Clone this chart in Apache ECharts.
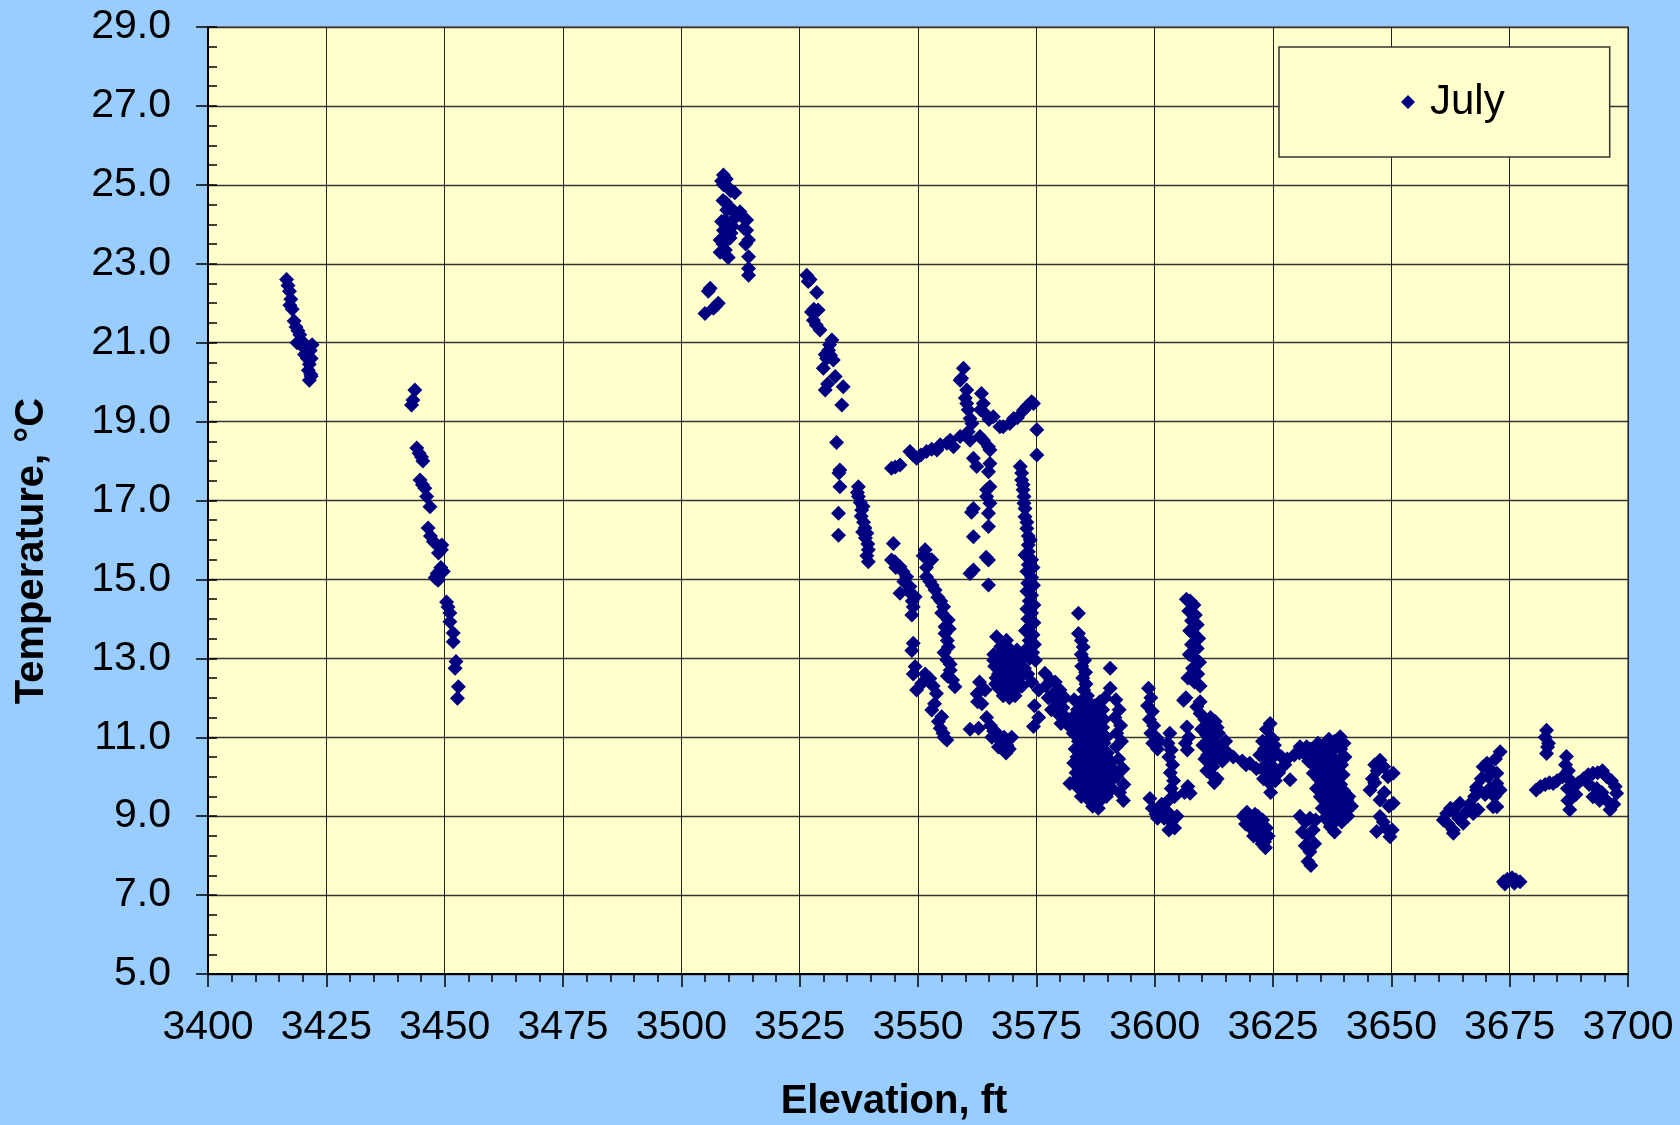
<!DOCTYPE html>
<html>
<head>
<meta charset="utf-8">
<script src="https://cdn.jsdelivr.net/npm/echarts@6/dist/echarts.min.js"></script>
<style>
html,body{margin:0;padding:0;background:#99CCFF;}
#chart{width:1680px;height:1125px;}
</style>
</head>
<body>
<div id="chart"></div>
<script>
// Tick settings
var xTicks = {min: 3400, max: 3700, step: 25};
var yTicks = {min: 5, max: 29, step: 2};
var seriesName = 'July';

// Data: [elevation ft, temperature °C], grouped by cluster
var clusterA = [[3416.6,22.6],[3416.9,22.45],[3417.2,22.3],[3417.5,22.1],[3417.3,21.95],[3417.8,21.85],[3418.2,21.55],[3418.6,21.4],[3419.0,21.3],[3419.4,21.2],[3418.8,21.0],[3419.6,20.95],[3420.2,21.0],[3420.8,20.9],[3422.0,20.95],[3421.6,20.8],[3420.4,20.7],[3421.0,20.6],[3421.8,20.6],[3421.4,20.45],[3421.2,20.3],[3421.7,20.2],[3421.4,20.05],[3421.8,20.15]];

var clusterB = [[3443.7,19.8],[3443.3,19.55],[3443.0,19.42],[3444.1,18.33],[3444.6,18.2],[3445.1,18.1],[3445.4,18.0],[3444.8,17.52],[3445.3,17.4],[3445.8,17.31],[3446.2,17.1],[3446.9,16.84],[3446.5,16.3],[3447.0,16.1],[3447.6,15.96],[3448.2,15.9],[3449.4,15.87],[3448.7,15.67],[3449.3,15.75],[3448.0,15.04],[3448.4,15.15],[3449.2,15.3],[3449.7,15.2],[3448.6,14.98],[3450.4,14.43],[3450.7,14.3],[3451.1,14.15],[3451.1,13.93],[3451.8,13.64],[3451.8,13.42],[3452.4,12.92],[3452.2,12.75],[3452.9,12.28],[3452.7,11.99]];

var clusterC = [[3508.9,25.25],[3508.5,25.1],[3509.5,25.15],[3508.9,25.0],[3509.8,24.95],[3510.4,24.85],[3511.3,24.8],[3508.8,24.6],[3509.4,24.55],[3509.6,24.36],[3510.3,24.4],[3511.0,24.35],[3512.4,24.32],[3511.8,24.25],[3511.3,24.16],[3512.8,24.2],[3513.8,24.11],[3508.5,24.07],[3509.2,24.1],[3510.0,24.0],[3510.8,23.95],[3508.9,23.85],[3509.7,23.8],[3510.5,23.78],[3513.8,23.85],[3513.2,23.9],[3508.2,23.6],[3508.8,23.5],[3510.3,23.65],[3514.2,23.6],[3513.6,23.5],[3508.2,23.29],[3509.9,23.16],[3509.3,23.35],[3514.2,23.18],[3514.2,22.88],[3514.2,22.71],[3506.1,22.38],[3505.7,22.3],[3507.8,22.0],[3507.2,21.92],[3506.8,21.87],[3505.0,21.74]];

var clusterD = [[3526.5,22.71],[3526.8,22.55],[3527.2,22.6],[3528.6,22.27],[3527.5,21.78],[3528.0,21.85],[3528.9,21.83],[3527.9,21.57],[3528.5,21.45],[3529.3,21.32],[3531.8,21.07],[3531.3,20.95],[3531.1,20.81],[3530.4,20.7],[3530.7,20.6],[3532.1,20.56],[3531.5,20.68],[3530.0,20.35],[3532.5,20.14],[3534.2,19.88],[3530.4,19.8],[3530.9,19.95],[3533.9,19.42],[3532.8,18.47],[3533.5,17.77],[3533.3,17.7],[3533.5,17.35],[3533.2,16.68],[3533.2,16.12],[3537.4,17.35],[3537.2,17.2],[3537.4,17.1],[3537.8,16.95],[3538.1,16.76],[3538.0,16.6],[3538.5,16.45],[3538.8,16.3],[3539.2,16.17],[3538.9,16.05],[3539.4,15.9],[3539.5,15.75],[3539.2,15.6],[3539.5,15.45],[3538.4,16.85],[3538.3,16.2]];

var clusterE1 = [[3544.4,17.82],[3545.2,17.85],[3546.2,17.9],[3548.3,18.24],[3549.0,18.15],[3549.7,18.07],[3550.6,18.15],[3551.8,18.24],[3552.9,18.3],[3554.0,18.28],[3554.7,18.41],[3556.1,18.45],[3556.8,18.53],[3557.5,18.36],[3558.9,18.62],[3559.6,20.35],[3559.2,20.1],[3558.9,20.05],[3560.3,19.8],[3560.0,19.6],[3560.3,19.46],[3560.6,19.3],[3561.0,19.08],[3561.4,18.95],[3560.6,18.74],[3561.0,18.53],[3563.4,19.71],[3563.8,19.46],[3563.2,19.3],[3564.2,19.2],[3565.9,19.12],[3565.0,19.05],[3567.3,18.87],[3568.0,18.87],[3569.4,18.95],[3570.2,19.08],[3571.0,19.1],[3572.3,19.29],[3573.0,19.38],[3574.0,19.5],[3574.4,19.46],[3575.1,18.79],[3575.1,18.15],[3563.1,18.62],[3563.8,18.53],[3564.9,18.36],[3561.7,18.07],[3562.4,17.86],[3565.2,18.28],[3565.2,17.94],[3564.9,17.73],[3564.5,17.27],[3565.2,17.35],[3565.2,16.93],[3564.5,17.1],[3561.7,16.8],[3561.3,16.7],[3564.9,16.68],[3564.9,16.34],[3561.7,16.08],[3564.9,15.49],[3564.4,15.56],[3561.7,15.24],[3561.0,15.15],[3564.9,14.86]];

var clusterE2 = [[3571.6,17.86],[3571.9,17.7],[3571.9,17.52],[3572.2,17.4],[3572.2,17.27],[3572.4,17.1],[3572.4,16.93],[3572.6,16.8],[3572.6,16.59],[3573.0,16.45],[3573.0,16.29],[3573.3,16.1],[3573.3,15.87],[3573.7,16.0],[3572.6,15.62],[3573.3,15.7],[3574.0,15.5],[3573.3,15.37],[3574.3,15.3],[3573.0,15.2],[3574.0,15.05],[3573.2,14.9],[3574.4,14.85],[3573.0,14.7],[3574.0,14.6],[3573.5,14.45],[3574.5,14.35],[3573.0,14.25],[3574.0,14.15],[3573.2,14.0],[3574.5,13.9],[3573.6,13.8],[3572.7,13.7],[3574.3,13.6],[3573.5,13.45],[3574.6,13.35],[3573.0,13.25],[3574.2,13.15],[3573.6,13.0],[3574.8,12.95]];

var clusterE3 = [[3566.6,13.55],[3568.7,13.46],[3567.5,13.3],[3570.9,13.21],[3566.0,13.1],[3567.2,13.0],[3568.5,13.1],[3569.8,13.0],[3571.0,12.95],[3566.2,12.8],[3567.5,12.75],[3568.8,12.8],[3570.0,12.7],[3571.3,12.7],[3572.5,12.75],[3566.5,12.5],[3567.8,12.45],[3569.0,12.5],[3570.3,12.45],[3571.5,12.5],[3567.0,12.25],[3568.3,12.2],[3569.5,12.25],[3570.8,12.2],[3568.0,12.05],[3569.3,12.0],[3570.5,12.05],[3572.0,12.3],[3573.2,12.6],[3574.0,12.4],[3566.0,12.95],[3567.0,12.6],[3568.2,12.6],[3569.4,12.65],[3570.6,12.6],[3571.8,12.6],[3567.3,12.9],[3568.5,12.9],[3569.7,12.85],[3570.5,12.35],[3569.0,12.35],[3567.5,12.35],[3568.8,12.1],[3567.8,13.15],[3569.3,13.25],[3566.4,12.35],[3572.0,13.0],[3563.0,12.4],[3562.5,12.1],[3563.5,11.85],[3564.2,12.2],[3562.6,11.9],[3564.5,11.5],[3565.3,11.3],[3566.0,11.15],[3565.6,11.0],[3566.7,11.1],[3567.5,10.9],[3568.2,11.0],[3568.8,10.8],[3569.3,10.7],[3567.0,10.75],[3569.8,11.0],[3568.6,10.6],[3562.8,11.23],[3561.0,11.2]];

var clusterE4 = [[3544.8,15.91],[3545.1,15.45],[3544.4,15.49],[3545.3,15.3],[3546.2,15.32],[3546.8,15.2],[3547.6,15.07],[3547.0,14.95],[3548.3,14.82],[3548.0,14.7],[3549.4,14.56],[3548.8,14.45],[3546.2,14.65],[3548.7,14.1],[3549.0,14.3],[3551.5,15.75],[3551.1,15.6],[3552.2,15.53],[3552.9,15.5],[3551.8,15.3],[3551.8,15.07],[3552.5,14.95],[3553.0,14.85],[3553.6,14.73],[3554.2,14.55],[3554.8,14.45],[3555.4,14.31],[3555.0,14.15],[3556.4,13.97],[3555.7,13.8],[3556.6,13.75],[3555.7,13.63],[3556.2,13.45],[3556.4,13.29],[3555.5,13.15],[3556.1,12.96],[3556.8,12.85],[3556.8,12.7],[3556.2,12.55],[3557.3,12.45],[3557.8,12.28],[3549.0,13.38],[3548.7,13.2],[3549.4,12.79],[3549.0,12.6],[3550.8,12.37],[3549.7,12.2],[3552.5,12.49],[3551.5,12.6],[3553.9,12.11],[3553.2,12.3],[3552.9,11.69],[3553.5,11.85],[3555.0,11.52],[3554.3,11.4],[3554.7,11.23],[3555.3,11.1],[3556.1,10.93],[3555.5,11.0]];

var clusterE6 = [[3575.5,12.2],[3574.6,11.8],[3574.4,11.27],[3575.5,11.5],[3576.8,12.62],[3577.0,12.3],[3578.0,12.45],[3577.5,12.0],[3578.6,12.1],[3579.3,11.9],[3580.0,12.2],[3578.2,11.7],[3579.5,11.6],[3580.6,11.75],[3581.3,11.5],[3580.2,11.35],[3581.8,11.3],[3582.5,11.45],[3579.0,12.4],[3581.0,12.0],[3583.9,14.14],[3583.9,13.63],[3584.5,13.45],[3584.9,13.29],[3584.5,13.1],[3585.2,12.95],[3584.6,12.8],[3585.4,12.65],[3584.8,12.5],[3585.5,12.35],[3585.0,12.2],[3585.8,12.05],[3584.3,11.9]];

var clusterE6c = [[3583.0,11.95],[3584.6,11.85],[3586.0,11.9],[3587.3,11.8],[3588.4,11.9],[3589.5,12.0],[3582.6,11.5],[3584.0,11.55],[3585.4,11.45],[3586.8,11.6],[3588.0,11.5],[3589.3,11.45],[3582.8,11.1],[3584.3,11.15],[3585.7,11.05],[3587.0,11.2],[3588.3,11.1],[3589.8,11.0],[3583.2,10.7],[3584.6,10.75],[3586.0,10.65],[3587.4,10.8],[3588.7,10.7],[3590.0,10.6],[3582.9,10.35],[3584.2,10.3],[3585.5,10.4],[3586.9,10.25],[3588.2,10.35],[3589.6,10.2],[3590.7,10.4],[3582.1,9.83],[3583.6,9.95],[3585.0,9.9],[3586.4,9.8],[3587.8,9.9],[3589.0,9.75],[3590.3,9.85],[3584.5,9.5],[3585.8,9.45],[3587.2,9.55],[3588.5,9.4],[3589.8,9.5],[3586.9,9.25],[3588.1,9.2],[3583.7,11.7],[3585.1,11.65],[3586.4,11.75],[3587.8,11.65],[3589.0,11.7],[3583.5,11.3],[3585.0,11.3],[3586.3,11.35],[3587.7,11.3],[3589.0,11.25],[3583.9,10.9],[3585.3,10.9],[3586.6,10.95],[3588.0,10.9],[3589.3,10.85],[3583.6,10.5],[3585.0,10.55],[3586.3,10.5],[3587.8,10.55],[3589.2,10.45],[3583.4,10.1],[3584.8,10.15],[3586.2,10.05],[3587.5,10.1],[3588.9,10.0],[3590.2,10.05],[3584.0,9.7],[3585.4,9.7],[3586.8,9.65],[3588.2,9.6],[3589.5,9.65],[3587.5,9.35],[3591.2,10.2],[3591.0,9.7],[3590.6,12.75],[3590.6,12.24],[3591.8,11.95],[3592.5,11.7],[3591.6,11.5],[3592.8,11.3],[3592.0,11.1],[3593.0,10.9],[3591.9,10.76],[3592.4,10.45],[3593.3,10.2],[3592.0,10.0],[3593.5,9.8],[3592.6,9.6],[3593.4,9.4]];

var clusterE7 = [[3598.7,12.24],[3599.2,12.0],[3598.5,11.8],[3599.5,11.65],[3598.9,11.45],[3599.8,11.3],[3599.2,11.1],[3600.3,11.0],[3599.6,10.85],[3600.6,10.7],[3601.0,10.9],[3603.2,11.1],[3602.8,10.85],[3603.5,10.68],[3603.0,10.5],[3603.8,10.3],[3603.3,10.1],[3604.0,9.9],[3603.5,9.7],[3604.2,9.5],[3603.0,9.41],[3599.0,9.45],[3599.5,9.2],[3600.3,9.05],[3601.2,9.15],[3602.0,8.95],[3602.8,9.1],[3603.5,8.85],[3604.2,8.7],[3603.0,8.65],[3600.6,8.95],[3604.7,9.0],[3601.5,9.3]];

var clusterE8 = [[3606.7,14.5],[3607.5,14.45],[3608.3,14.35],[3607.2,14.2],[3608.6,14.1],[3607.8,13.95],[3609.0,13.85],[3607.4,13.7],[3608.5,13.6],[3609.3,13.5],[3607.8,13.35],[3609.0,13.25],[3607.3,13.1],[3608.4,13.0],[3609.5,12.9],[3608.0,12.75],[3609.1,12.6],[3607.0,12.5],[3608.4,12.4],[3609.6,12.3],[3606.6,12.0],[3606.1,11.94],[3608.9,11.77],[3609.6,11.9]];

var clusterE9 = [[3606.8,11.26],[3607.2,11.0],[3606.5,10.85],[3606.9,10.68],[3607.5,9.58],[3607.0,9.75],[3606.3,9.6],[3609.6,11.6],[3610.6,11.45],[3611.8,11.5],[3612.8,11.4],[3609.9,11.2],[3611.0,11.05],[3612.2,11.15],[3613.5,11.1],[3610.2,10.8],[3611.4,10.7],[3612.6,10.85],[3613.8,10.75],[3615.0,10.9],[3610.6,10.45],[3611.8,10.35],[3613.0,10.5],[3614.3,10.4],[3615.5,10.6],[3616.6,10.5],[3612.0,10.05],[3613.2,9.95],[3612.6,9.85],[3611.0,10.15],[3610.8,11.25],[3612.0,11.3],[3613.2,11.25],[3611.6,10.9],[3612.8,10.6],[3614.0,10.6],[3611.2,10.55],[3612.3,10.25]];

var clusterE11 = [[3620.1,10.34],[3618.5,10.4],[3619.3,10.3],[3621.5,10.2],[3624.4,11.35],[3623.6,11.2],[3624.6,11.0],[3622.8,10.9],[3623.9,10.75],[3625.3,10.8],[3622.2,10.55],[3623.3,10.5],[3624.6,10.45],[3625.8,10.6],[3626.8,10.5],[3622.6,10.2],[3623.8,10.15],[3625.0,10.25],[3626.2,10.1],[3623.0,9.95],[3624.2,9.85],[3625.5,9.9],[3624.5,9.6],[3628.6,9.92],[3627.5,10.3],[3628.0,10.45],[3629.5,10.55],[3630.6,10.6],[3623.2,10.7],[3624.2,10.6],[3625.0,10.95],[3623.5,10.3],[3624.8,10.0],[3618.7,9.0],[3619.5,9.1],[3620.6,8.95],[3621.8,9.0],[3622.8,8.9],[3619.2,8.8],[3620.3,8.7],[3621.5,8.75],[3622.6,8.6],[3623.6,8.7],[3620.9,8.5],[3622.0,8.45],[3623.2,8.35],[3624.0,8.5],[3623.4,8.2],[3622.7,8.3],[3621.3,8.6],[3622.2,8.75],[3623.0,8.5],[3620.0,8.85],[3621.2,9.05]];

var clusterE12 = [[3632.1,10.76],[3630.7,10.76],[3631.5,10.6],[3633.0,10.7],[3634.5,10.85],[3635.7,10.8],[3636.8,10.95],[3638.0,10.9],[3639.2,11.01],[3640.0,10.85],[3632.5,10.4],[3633.6,10.3],[3634.8,10.45],[3636.2,10.35],[3637.5,10.5],[3638.8,10.4],[3640.2,10.5],[3633.5,10.09],[3634.6,9.95],[3636.0,10.0],[3637.3,10.1],[3638.6,9.95],[3639.8,10.05],[3634.2,9.7],[3635.0,9.49],[3636.2,9.6],[3637.5,9.7],[3638.7,9.55],[3639.9,9.65],[3641.0,9.5],[3635.4,9.2],[3636.6,9.3],[3637.8,9.15],[3639.2,9.24],[3640.6,9.41],[3641.6,9.25],[3636.0,8.95],[3637.1,8.73],[3638.3,8.9],[3639.5,8.85],[3640.8,9.0],[3638.0,8.6],[3633.8,10.55],[3635.2,10.6],[3636.5,10.65],[3637.9,10.7],[3639.3,10.7],[3634.2,10.2],[3635.5,10.2],[3636.8,10.25],[3638.2,10.2],[3639.5,10.3],[3635.3,9.85],[3636.6,9.8],[3638.0,9.85],[3639.3,9.8],[3635.8,9.4],[3637.0,9.45],[3638.3,9.4],[3639.6,9.45],[3640.2,9.15],[3636.8,9.05],[3638.9,9.05],[3630.7,9.0],[3631.8,8.85],[3632.8,8.95],[3631.2,8.6],[3632.3,8.5],[3633.5,8.65],[3631.8,8.25],[3632.8,8.1],[3633.8,8.3],[3632.4,7.85],[3633.0,7.75],[3634.0,8.9]];

var clusterE13 = [[3647.6,10.42],[3646.5,10.3],[3648.4,10.25],[3650.4,10.09],[3649.3,10.0],[3645.5,9.66],[3646.5,9.85],[3647.6,9.41],[3648.5,9.6],[3650.4,9.33],[3649.5,9.25],[3647.6,8.99],[3648.3,8.85],[3646.9,8.61],[3649.7,8.48],[3648.8,8.7],[3650.2,8.65],[3646.0,9.95],[3647.0,10.15]];

var clusterE14 = [[3661.7,9.07],[3662.5,9.2],[3663.1,9.16],[3663.1,8.57],[3663.1,8.65],[3664.5,9.33],[3665.2,8.82],[3664.2,8.95],[3665.8,9.1],[3666.5,9.3],[3667.3,9.07],[3668.0,9.74],[3668.0,9.66],[3668.3,9.16],[3667.6,9.5],[3669.4,10.25],[3670.2,10.34],[3669.0,9.95],[3670.5,10.0],[3671.5,9.24],[3672.3,10.09],[3672.3,9.83],[3672.3,9.24],[3673.0,10.63],[3673.0,9.66],[3671.8,9.5],[3670.8,9.7],[3672.0,10.45],[3671.2,10.15],[3669.8,9.55],[3661.0,8.9],[3662.0,8.8]];

var clusterE15 = [[3673.7,7.34],[3674.5,7.4],[3675.5,7.44],[3676.3,7.38],[3677.2,7.34],[3674.0,7.28],[3676.0,7.3]];

var clusterE16 = [[3682.8,11.18],[3682.5,11.0],[3683.2,10.85],[3682.8,10.59],[3683.0,10.75],[3680.6,9.66],[3681.5,9.75],[3682.5,9.8],[3683.4,9.85],[3684.2,9.83],[3685.0,9.9],[3686.2,10.0],[3687.0,10.51],[3686.8,10.3],[3687.4,10.15],[3687.7,9.92],[3687.2,9.7],[3687.7,9.16],[3687.3,9.4],[3688.5,9.75],[3689.5,9.85],[3690.6,9.95],[3691.6,10.05],[3692.6,10.09],[3693.6,10.1],[3694.6,10.15],[3695.5,10.0],[3696.5,9.9],[3697.6,9.58],[3696.2,9.16],[3695.5,9.4],[3697.0,9.3],[3692.6,9.49],[3693.4,9.7],[3694.5,9.6],[3694.0,9.4],[3691.8,9.8],[3689.0,9.55],[3688.0,9.45],[3697.3,9.75]];

var july = [].concat(clusterA, clusterB, clusterC, clusterD, clusterE1, clusterE2, clusterE3, clusterE4,
  clusterE6, clusterE6c, clusterE7, clusterE8, clusterE9, clusterE11, clusterE12, clusterE13,
  clusterE14, clusterE15, clusterE16);

var FONT = '"Liberation Sans", Arial, sans-serif';
var chart = echarts.init(document.getElementById('chart'), null, {renderer: 'canvas'});
chart.setOption({
  animation: false,
  backgroundColor: '#99CCFF',
  grid: {left: 208, top: 27, right: 52, bottom: 151, show: true,
    backgroundColor: '#FFFFCC', borderColor: '#808080', borderWidth: 2},
  xAxis: {
    type: 'value', min: xTicks.min, max: xTicks.max, interval: xTicks.step,
    axisLine: {show: true, onZero: false, lineStyle: {color: '#000', width: 2}},
    axisTick: {show: true, length: 13, lineStyle: {color: '#000', width: 1.5}},
    minorTick: {show: true, splitNumber: 5, length: 8, lineStyle: {color: '#000', width: 1.5}},
    splitLine: {show: true, lineStyle: {color: '#222', width: 1}},
    axisLabel: {fontSize: 41, color: '#000', margin: 33, fontFamily: FONT,
      formatter: function (v) { return String(v); }}
  },
  yAxis: [{
    type: 'value', min: yTicks.min, max: yTicks.max, interval: yTicks.step,
    axisLine: {show: true, onZero: false, lineStyle: {color: '#000', width: 2}},
    axisTick: {show: true, length: 12, lineStyle: {color: '#000', width: 1.5}},
    splitLine: {show: true, lineStyle: {color: '#333', width: 1.3}},
    axisLabel: {fontSize: 41, color: '#000', margin: 37, fontFamily: FONT,
      formatter: function (v) { return v.toFixed(1); }}
  }, {
    type: 'value', min: yTicks.min, max: yTicks.max, interval: 0.5, position: 'left',
    axisLine: {show: false},
    axisTick: {show: true, inside: true, length: 9, lineStyle: {color: '#000', width: 1.5}},
    splitLine: {show: false},
    axisLabel: {show: false}
  }],
  legend: {
    data: [seriesName], left: 1279, top: 47, orient: 'horizontal',
    icon: 'diamond', itemWidth: 14, itemHeight: 14, itemGap: 0,
    padding: [34, 105, 34, 122],
    backgroundColor: '#FFFFCC', borderColor: '#333', borderWidth: 1.5,
    textStyle: {fontSize: 42, color: '#000', fontFamily: FONT, padding: [4, 0, 0, 10]}
  },
  graphic: [
    {type: 'text', x: 32, y: 551, rotation: Math.PI / 2,
      style: {text: 'Temperature, °C', font: 'bold 40px ' + FONT, fill: '#000',
        textAlign: 'center', textVerticalAlign: 'middle'}},
    {type: 'text', x: 894, y: 1102,
      style: {text: 'Elevation, ft', font: 'bold 40px ' + FONT, fill: '#000',
        textAlign: 'center', textVerticalAlign: 'middle'}}
  ],
  series: [{
    name: seriesName, type: 'scatter', yAxisIndex: 0,
    symbol: 'diamond', symbolSize: 15,
    itemStyle: {color: '#000080', opacity: 1},
    data: july
  }]
});
</script>
</body>
</html>
